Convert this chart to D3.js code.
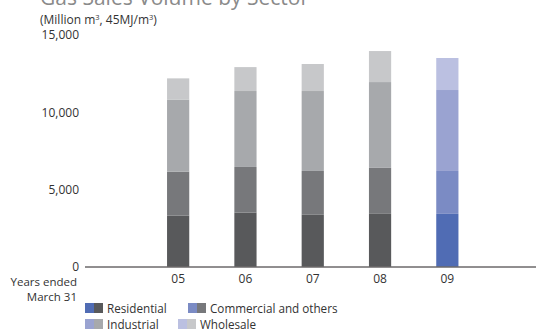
<!DOCTYPE html>
<html><head><meta charset="utf-8">
<script src="https://cdn.jsdelivr.net/npm/d3@7/dist/d3.min.js"></script>
<style>
body{margin:0;background:#fff;}
text{font-family:"Open Sans","Noto Sans",sans-serif;}
</style></head>
<body><svg id="c" width="536" height="331"></svg>
<script>
const years = ["05","06","07","08","09"];
const sectors = ["Residential","Commercial and others","Industrial","Wholesale"];
const residential = [3290,3500,3350,3410,3410];
const commercial  = [2860,2950,2840,2980,2780];
const industrial  = [4670,4920,5180,5560,5245];
const wholesale   = [1370,1550,1750,2010,2075];
const yTicks = [0,5000,10000,15000];
const grayColors = ["#58595b","#77787b","#a7a9ac","#c7c8ca"];
const blueColors = ["#506cb4","#7b8bc4","#9aa3d1","#bbc0e1"];

const svg = d3.select("#c");
const series = [residential, commercial, industrial, wholesale];
const rows = years.map((y,i)=>{const o={year:y}; sectors.forEach((s,k)=>o[s]=series[k][i]); return o;});
const stacked = d3.stack().keys(sectors)(rows);

const x = d3.scaleBand().domain(years).range([144.5,481]).paddingInner(0.67).paddingOuter(0.335);
const y = d3.scaleLinear().domain([0,15000]).range([266.5,35]);

// title (cut off at top)
svg.append("text").attr("x",40).attr("y",5).attr("font-size",21).attr("fill","#8a8a8a").text("Gas Sales Volume by Sector");
const unit = svg.append("text").attr("x",40).attr("y",24).attr("font-size",12).attr("fill","#333");
unit.append("tspan").text("(Million m");
unit.append("tspan").attr("font-size",7.5).attr("dy",-4.5).text("3");
unit.append("tspan").attr("dy",4.5).text(", 45MJ/m");
unit.append("tspan").attr("font-size",7.5).attr("dy",-4.5).text("3");
unit.append("tspan").attr("dy",4.5).text(")");

// bars
stacked.forEach((layer,k)=>{
  svg.append("g").selectAll("rect").data(layer).join("rect")
    .attr("x",d=>x(d.data.year)).attr("width",x.bandwidth())
    .attr("y",d=>y(d[1])).attr("height",d=>y(d[0])-y(d[1]))
    .attr("fill",d=>d.data.year==="09"?blueColors[k]:grayColors[k]);
});

// y axis labels
const ya = svg.append("g").attr("transform","translate(79,0)")
  .call(d3.axisLeft(y).tickValues(yTicks).tickSize(0).tickPadding(0).tickFormat(d3.format(",")));
ya.select(".domain").remove();
ya.selectAll("text").attr("font-size",12).attr("fill","#333").attr("font-family","Open Sans, Noto Sans, sans-serif");

// x axis
const xa = svg.append("g").attr("transform",`translate(0,${y(0)})`)
  .call(d3.axisBottom(x).tickSize(0).tickPadding(8));
xa.select(".domain").remove();
xa.selectAll("text").attr("font-size",12).attr("fill","#333").attr("font-family","Open Sans, Noto Sans, sans-serif");
svg.append("line").attr("x1",85).attr("x2",536).attr("y1",y(0)+0.5).attr("y2",y(0)+0.5).attr("stroke","#231f20").attr("stroke-width",1);

svg.append("text").attr("x",77).attr("y",285.5).attr("text-anchor","end").attr("font-size",11.5).attr("fill","#333").text("Years ended");
svg.append("text").attr("x",77).attr("y",300.5).attr("text-anchor","end").attr("font-size",11.5).attr("fill","#333").text("March 31");

// legend
const legPos = [[85,303],[188,303],[85,319],[178,319]];
sectors.forEach((s,k)=>{
  const [lx,ly]=legPos[k];
  svg.append("rect").attr("x",lx).attr("y",ly).attr("width",9).attr("height",10).attr("fill",blueColors[k]);
  svg.append("rect").attr("x",lx+9).attr("y",ly).attr("width",9).attr("height",10).attr("fill",grayColors[k]);
  svg.append("text").attr("x",lx+22).attr("y",ly+9.5).attr("font-size",11.7).attr("textLength",null).attr("fill","#333").text(s);
});
</script></body></html>
